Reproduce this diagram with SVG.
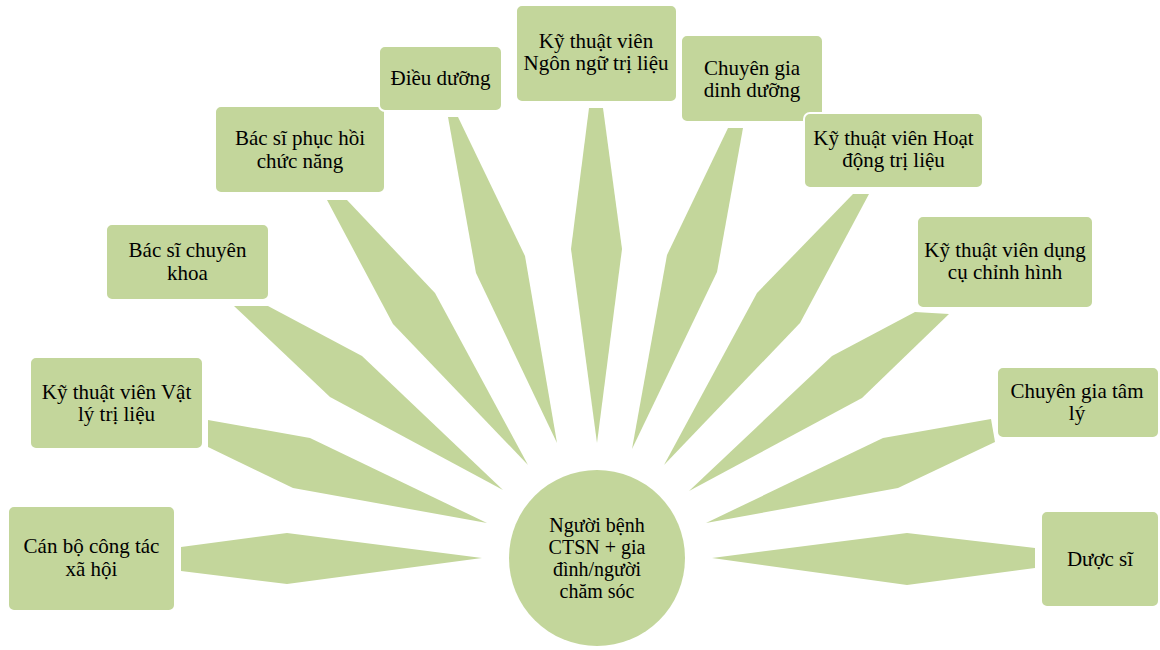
<svg xmlns="http://www.w3.org/2000/svg" width="1160" height="650" viewBox="0 0 1160 650">
<style>
.sp{fill:#C3D69B}
.bx{fill:#C3D69B;stroke:#fff;stroke-width:2}
text{font-family:"Liberation Serif","Times New Roman",serif;font-size:21px;fill:#000;text-anchor:middle}
.ct{font-size:20px}
</style>
<rect width="1160" height="650" fill="#fff"/>
<g id="connectors">
<polygon class="sp" points="181,547 287,533 482,558 287,584 181,571"/>
<polygon class="sp" points="208,420 310,438 487,523 293,488 208,447"/>
<polygon class="sp" points="234,306 268,306 362,356 503,490 330,397"/>
<polygon class="sp" points="327,200 347,200 435,293 528,465 393,324"/>
<polygon class="sp" points="448,117 458,117 525,256 557,443 476,273"/>
<polygon class="sp" points="589,108 603,108 622,249 597,443 571,249"/>
<polygon class="sp" points="728,128 743,128 717,272 632,449 667,255"/>
<polygon class="sp" points="853,194 869,194 800,323 664,465 757,293"/>
<polygon class="sp" points="915,312 949,314 862,398 689,491 832,356"/>
<polygon class="sp" points="991,419 995,442 898,488 706,523 883,438"/>
<polygon class="sp" points="1035,548 1035,568 907,585 712,558 907,533"/>
</g>
<g id="center">
<circle cx="597" cy="558" r="88" fill="#C3D69B"/>
<text class="ct" x="597" y="532">Người bệnh</text>
<text class="ct" x="597" y="554">CTSN + gia</text>
<text class="ct" x="597" y="576">đình/người</text>
<text class="ct" x="597" y="598">chăm sóc</text>
</g>
<g id="n1"><rect class="bx" x="8" y="506" width="167" height="105" rx="6"/><text x="91.5" y="553">Cán bộ công tác</text><text x="91.5" y="576">xã hội</text></g>
<g id="n2"><rect class="bx" x="30" y="357" width="173" height="92" rx="6"/><text x="116.5" y="399">Kỹ thuật viên Vật</text><text x="116.5" y="421">lý trị liệu</text></g>
<g id="n3"><rect class="bx" x="106" y="224" width="163" height="76" rx="6"/><text x="187.5" y="257">Bác sĩ chuyên</text><text x="187.5" y="280">khoa</text></g>
<g id="n4"><rect class="bx" x="215" y="106" width="170" height="87" rx="6"/><text x="300" y="145">Bác sĩ phục hồi</text><text x="300" y="168">chức năng</text></g>
<g id="n5"><rect class="bx" x="379" y="46" width="123" height="65" rx="6"/><text x="440.5" y="85">Điều dưỡng</text></g>
<g id="n6"><rect class="bx" x="516" y="5" width="161" height="97" rx="6"/><text x="596" y="48">Kỹ thuật viên</text><text x="596" y="70">Ngôn ngữ trị liệu</text></g>
<g id="n7"><rect class="bx" x="681" y="35" width="142" height="87" rx="6"/><text x="752" y="75">Chuyên gia</text><text x="752" y="97">dinh dưỡng</text></g>
<g id="n8"><rect class="bx" x="804" y="113" width="179" height="75" rx="6"/><text x="893.5" y="145">Kỹ thuật viên Hoạt</text><text x="893.5" y="167">động trị liệu</text></g>
<g id="n9"><rect class="bx" x="917" y="216" width="176" height="92" rx="6"/><text x="1005" y="257">Kỹ thuật viên dụng</text><text x="1005" y="279">cụ chỉnh hình</text></g>
<g id="n10"><rect class="bx" x="997" y="367" width="162" height="71" rx="6"/><text x="1077" y="398">Chuyên gia tâm</text><text x="1077" y="420">lý</text></g>
<g id="n11"><rect class="bx" x="1041" y="511" width="118" height="96" rx="6"/><text x="1100" y="566">Dược sĩ</text></g>
</svg>
